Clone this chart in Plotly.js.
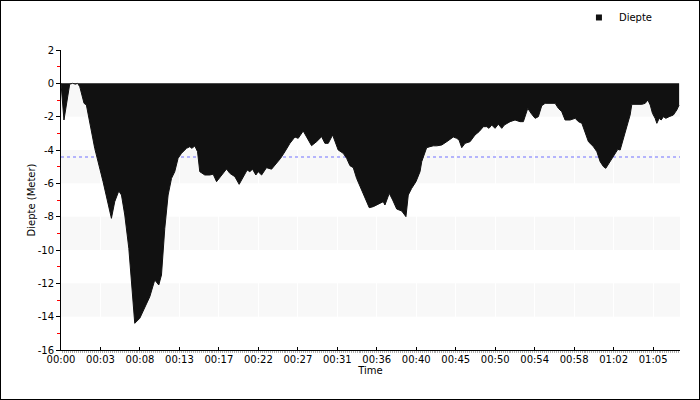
<!DOCTYPE html>
<html>
<head>
<meta charset="utf-8">
<script src="https://cdn.plot.ly/plotly-3.0.1.min.js"></script>
<style>
  html, body { margin: 0; padding: 0; background: #fff; }
  #wrap { width: 698px; height: 398px; border: 1px solid #000; }
  #chart { width: 698px; height: 398px; }
</style>
</head>
<body>
<div id="wrap"><div id="chart"></div></div>
<script>
// Time in minutes since start of dive
const timeMin = [
  0.00, 0.33, 0.97, 1.30, 1.60, 1.85, 2.09, 2.57, 2.83, 3.76, 4.69, 5.62, 5.99, 6.44, 6.74,
  7.11, 7.56, 7.92, 8.22, 8.78, 9.34, 9.90, 10.45, 10.90, 11.20, 11.57, 11.94, 12.32, 12.68,
  13.05, 13.43, 13.99, 14.36, 14.58, 14.92, 15.22, 15.47, 16.03, 16.59, 16.96, 17.34, 17.89,
  18.45, 18.82, 19.38, 19.86, 20.30, 20.75, 21.05, 21.35, 21.72, 21.98, 22.36, 22.91, 23.47,
  24.03, 24.48, 24.96, 25.52, 26.07, 26.44, 27.00, 27.38, 27.93, 28.49, 29.05, 29.42, 29.79,
  30.28, 30.65, 30.90, 31.46, 31.84, 32.21, 32.58, 32.95, 33.51, 33.99, 34.36, 34.81, 35.19,
  35.92, 36.11, 36.59, 36.97, 37.42, 37.98, 38.15, 38.45, 38.71, 39.09, 39.57, 40.02, 40.21,
  40.76, 41.13, 41.50, 41.88, 42.44, 43.00, 43.73, 44.11, 44.37, 44.67, 45.04, 45.60, 46.15,
  46.60, 47.08, 47.46, 47.71, 48.01, 48.38, 48.75, 49.13, 49.42, 50.06, 50.61, 51.17, 51.54,
  51.73, 52.03, 52.48, 52.85, 53.21, 53.59, 53.96, 55.08, 55.44, 55.82, 56.19, 56.75, 57.31,
  57.68, 58.06, 58.42, 58.79, 59.35, 59.73, 60.10, 60.47, 60.73, 61.02, 61.40, 61.77, 62.07,
  62.33, 62.59, 63.08, 63.44, 63.63, 64.75, 65.12, 65.42, 65.68, 65.93, 66.23, 66.42, 66.68,
  66.90, 67.16, 67.42, 67.79, 68.26, 68.64, 68.90
];
// Depth in metres (negative = below surface)
const depth = [
  0.0, -2.2, -0.05, 0.0, -0.05, 0.0, -0.2, -1.2, -1.3, -3.9, -5.9, -8.1, -7.1, -6.46, -6.7,
  -7.9, -9.9, -12.3, -14.4, -14.1, -13.4, -12.8, -11.8, -12.1, -11.5, -8.7, -6.7, -5.7, -5.3,
  -4.5, -4.2, -3.9, -3.8, -3.9, -3.76, -4.1, -5.3, -5.5, -5.5, -5.45, -5.9, -5.5,
  -5.14, -5.4, -5.6, -6.06, -5.6, -5.2, -5.3, -5.15, -5.5, -5.3, -5.5, -5.06, -5.15,
  -4.8, -4.5, -4.1, -3.6, -3.22, -3.3, -2.86, -3.26, -3.74, -3.5, -3.2, -3.6, -3.6,
  -3.1, -3.6, -4.0, -4.2, -4.5, -4.94, -5.06, -5.7, -6.4, -7.0, -7.46, -7.4, -7.3,
  -7.1, -7.3, -6.6, -7.0, -7.54, -7.66, -7.8, -8.0, -6.7, -6.3, -5.9, -5.3, -4.7,
  -3.86, -3.8, -3.75, -3.75, -3.7, -3.5, -3.22, -3.3, -3.4, -3.86, -3.6, -3.5, -3.1,
  -2.9, -2.6, -2.6, -2.7, -2.5, -2.7, -2.45, -2.7, -2.5, -2.3, -2.2, -2.3, -2.3,
  -2.0, -1.5, -1.86, -2.1, -2.0, -1.34, -1.2, -1.2, -1.5, -1.7, -2.2, -2.2, -2.1,
  -2.3, -2.4, -3.0, -3.5, -3.8, -4.1, -4.7, -5.0, -5.1, -4.86, -4.5, -4.2, -3.96,
  -4.0, -3.5, -2.7, -1.9, -1.26, -1.26, -1.2, -1.0, -1.3, -1.8, -2.1, -2.4, -2.1,
  -2.2, -2.0, -2.1, -2.0, -1.9, -1.6, -1.3
];
const avgDepth = -4.42;
const endTime = 69.0;
const tickLabels = ['00:00','00:03','00:08','00:13','00:17','00:22','00:27','00:31',
  '00:36','00:40','00:45','00:50','00:54','00:58','01:02','01:05'];
const depthTicks = [2, 0, -2, -4, -6, -8, -10, -12, -14, -16];
const tickStepMin = 4.4;
const seriesName = 'Diepte';

const tickVals = tickLabels.map((_, i) => i * tickStepMin);
const depthTickText = depthTicks.map(v => String(v));

const bands = [];
for (let v = 0; v > -16; v -= 4) {
  bands.push({type: 'rect', layer: 'below', xref: 'paper', x0: 0, x1: 1, yref: 'y',
    y0: v, y1: v - 2, fillcolor: '#f8f8f8', line: {width: 0}});
}

const font = {family: 'DejaVu Sans, Verdana, sans-serif', size: 10, color: '#000'};

const traces = [
  {x: [0, endTime], y: [avgDepth, avgDepth], type: 'scatter', mode: 'lines',
   line: {color: '#7070ff', width: 1, dash: 'dot'}, showlegend: false, hoverinfo: 'skip'},
  {x: timeMin, y: depth, type: 'scatter', mode: 'lines', fill: 'tozeroy',
   fillcolor: '#111111', line: {color: '#111111', width: 1}, name: seriesName, showlegend: false},
  {x: [null], y: [null], type: 'scatter', mode: 'markers', name: seriesName,
   marker: {symbol: 'square', size: 6, color: '#111111'}, showlegend: true}
];

const layout = {
  width: 698, height: 398,
  margin: {l: 60, r: 19, t: 49, b: 49, autoexpand: false},
  paper_bgcolor: '#fff', plot_bgcolor: 'rgba(0,0,0,0)',
  font: font,
  showlegend: true,
  legend: {xref: 'container', yref: 'container', x: 0.828, xanchor: 'left',
    y: 0.995, yanchor: 'top', font: font, bgcolor: 'rgba(0,0,0,0)', itemwidth: 30},
  shapes: bands,
  xaxis: {
    range: [0, endTime], tickmode: 'array', tickvals: tickVals, ticktext: tickLabels,
    showline: true, linecolor: '#000', linewidth: 1, ticks: 'inside', ticklen: 3,
    tickcolor: '#000', showgrid: true, gridcolor: '#ffffff', gridwidth: 1, zeroline: false,
    tickfont: font,
    minor: {tickmode: 'linear', tick0: 0, dtick: 0.22, ticks: 'outside', ticklen: 2,
      tickcolor: '#b0b0b0', showgrid: false},
    title: {text: 'Time', font: font, standoff: 0}
  },
  yaxis: {
    range: [-16, 2], tickmode: 'array', tickvals: depthTicks, ticktext: depthTickText,
    showline: true, linecolor: '#000', linewidth: 1, ticks: 'outside', ticklen: 4,
    tickcolor: '#000', showgrid: false, zeroline: false, tickfont: font,
    minor: {tickmode: 'linear', tick0: 1, dtick: 2, ticks: 'outside', ticklen: 3,
      tickcolor: '#ff0000', showgrid: false},
    title: {text: 'Diepte (Meter)', font: font, standoff: 0}
  }
};

Plotly.newPlot('chart', traces, layout, {displayModeBar: false, staticPlot: true});
</script>
</body>
</html>
